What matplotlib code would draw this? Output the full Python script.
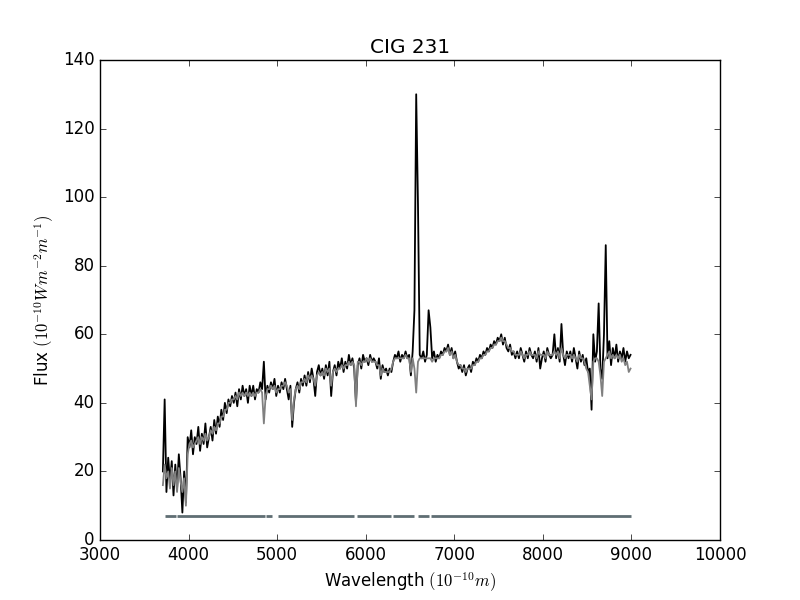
import numpy as np
import matplotlib
matplotlib.use('Agg')
import matplotlib.pyplot as plt

# Wavelength grid (Angstrom), 20 A sampling
wave = np.arange(3710, 9000, 20)

# Observed spectrum (black)
flux_obs = [
    20, 41, 14, 24, 17, 23, 13, 22, 15, 25,
    18, 8, 20, 11, 30, 27, 32, 25, 30, 28,
    33, 26, 31, 28, 34, 27, 30, 33, 29, 35,
    31, 36, 33, 38, 35, 40, 37, 41, 39, 42,
    40, 43, 39, 44, 41, 45, 42, 44, 40, 45,
    42, 45, 41, 44, 43, 46, 44, 52, 41, 45,
    43, 46, 44, 47, 42, 45, 43, 46, 44, 47,
    44, 41, 45, 33, 40, 44, 46, 43, 47, 45,
    48, 45, 49, 46, 50, 47, 42, 49, 51, 48,
    50, 47, 51, 48, 52, 42, 49, 51, 48, 52,
    50, 53, 49, 52, 50, 54, 51, 53, 50, 40,
    51, 53, 50, 54, 52, 53, 51, 54, 52, 53,
    52, 50, 53, 47, 51, 49, 50, 48, 50, 49,
    52, 54, 53, 55, 52, 54, 53, 55, 53, 54,
    48, 55, 67, 130, 98, 54, 53, 55, 52, 54,
    67, 62, 53, 55, 52, 54, 53, 55, 54, 56,
    55, 57, 54, 56, 53, 55, 52, 50, 51, 49,
    51, 48, 50, 51, 49, 52, 51, 53, 52, 54,
    53, 55, 54, 56, 55, 57, 56, 58, 57, 59,
    58, 60, 57, 59, 56, 55, 57, 54, 55, 53,
    55, 53, 56, 54, 52, 55, 53, 56, 54, 53,
    55, 52, 56, 50, 53, 55, 52, 56, 54, 53,
    54, 60, 53, 56, 52, 63, 54, 51, 55, 53,
    55, 52, 56, 53, 50, 55, 52, 54, 51, 53,
    49, 50, 38, 60, 52, 55, 69, 50, 47, 60,
    86, 53, 58, 51, 56, 53, 57, 52, 55, 53,
    56, 52, 55, 53, 54,
]

# Synthetic fit (gray)
flux_fit = [
    16, 22, 18, 20, 15, 21, 16, 20, 14, 21,
    17, 14, 18, 10, 25, 28, 29, 27, 28, 29,
    30, 28, 30, 29, 31, 29, 30, 32, 31, 33,
    32, 34, 34, 36, 36, 38, 38, 40, 40, 41,
    41, 42, 41, 43, 42, 43, 42, 43, 42, 43,
    42, 43, 42, 43, 43, 44, 43, 34, 42, 44,
    44, 45, 44, 45, 43, 44, 44, 45, 45, 46,
    45, 43, 44, 35, 41, 44, 45, 44, 46, 46,
    47, 46, 48, 47, 48, 47, 45, 48, 49, 48,
    49, 48, 50, 49, 50, 45, 49, 50, 49, 50,
    50, 51, 50, 51, 51, 52, 51, 52, 51, 39,
    52, 52, 51, 52, 52, 53, 52, 53, 52, 52,
    52, 51, 51, 48, 50, 49, 49, 49, 49, 50,
    52, 53, 53, 53, 53, 53, 53, 54, 53, 53,
    49, 53, 50, 43, 52, 53, 53, 53, 53, 53,
    53, 53, 52, 53, 53, 53, 53, 54, 54, 55,
    55, 56, 54, 55, 53, 54, 52, 51, 51, 50,
    50, 49, 50, 50, 50, 51, 51, 52, 52, 53,
    53, 54, 54, 55, 55, 56, 56, 57, 57, 58,
    58, 59, 58, 58, 57, 56, 56, 55, 55, 54,
    54, 54, 55, 54, 53, 54, 54, 55, 54, 54,
    54, 53, 55, 54, 54, 54, 53, 55, 54, 54,
    54, 55, 54, 55, 53, 56, 54, 53, 54, 54,
    54, 53, 54, 53, 52, 54, 53, 53, 52, 50,
    49, 45, 41, 52, 53, 53, 52, 48, 42, 52,
    53, 54, 55, 53, 54, 53, 54, 53, 54, 52,
    53, 51, 52, 49, 50,
]

# Fitted wavelength ranges (mask), drawn at a constant level
mask_start = [3734, 3870, 4870, 5010, 5900, 6310, 6590, 6740]
mask_end = [3855, 4860, 4940, 5870, 6285, 6540, 6710, 9000]
mask_level = 7

plt.style.use('classic')
fig = plt.figure(figsize=(8, 6), dpi=100)
ax = fig.add_subplot(111)

ax.plot(wave, flux_obs, color='k', lw=1.3)
ax.plot(wave, flux_fit, color='0.5', lw=1.3)
for s, e in zip(mask_start, mask_end):
    ax.plot([s, e], [mask_level, mask_level], color='#5f6e73', lw=2,
            solid_capstyle='butt')

ax.set_xlim(3000, 10000)
ax.set_ylim(0, 140)
ax.set_title('CIG 231')
ax.set_xlabel(r'Wavelength $(10^{-10}m)$')
ax.set_ylabel(r'Flux $(10^{-10}Wm^{-2}m^{-1})$')

fig.savefig('out.png', dpi=100)
